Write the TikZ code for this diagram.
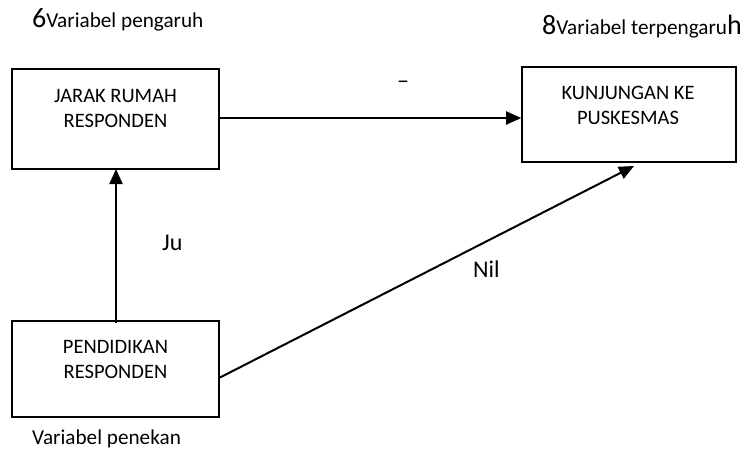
\documentclass[tikz,border=0pt]{standalone}
\usepackage{fontspec}
\setmainfont{Carlito}
\usetikzlibrary{arrows.meta,calc}
\begin{document}
\begin{tikzpicture}[x=1pt,y=-1pt,
  box/.style={draw,line width=1.6pt,minimum width=207pt,minimum height=100pt,inner sep=0pt},
  boxtext/.style={align=center,font=\fontsize{20.5}{25}\selectfont,inner sep=0pt},
  caption/.style={font=\fontsize{21.2}{25}\selectfont,inner sep=0pt,anchor=base west},
  edgelabel/.style={font=\fontsize{24}{28}\selectfont,inner sep=0pt,anchor=base west},
  link/.style={line width=2pt,-{Triangle[length=15pt,width=13pt]}}]
\useasboundingbox (0,0) rectangle (748,452);

% the three variable boxes
\node[box] (jarak) at (115.5,119) {};
\node[box,minimum height=96pt] (pend) at (115.5,369) {};
\node[box,minimum width=214pt,minimum height=95pt] (kunj) at (629,114.5) {};

\node[boxtext] (jarakt) at (115.5,108.5) {JARAK RUMAH\\RESPONDEN};
\node[boxtext] (pendt) at (115.5,359.5) {PENDIDIKAN\\RESPONDEN};
\node[boxtext] (kunjt) at (628,105.5) {KUNJUNGAN KE\\PUSKESMAS};

% headings and captions
\node[caption] (cap1) at (32,28) {{\fontsize{28}{30}\selectfont 6}Variabel pengaruh};
\node[caption] (cap2) at (542,35) {{\fontsize{28}{30}\selectfont 8}Variabel terpengaru{\fontsize{28}{30}\selectfont h}};
\node[caption] (cap3) at (32,444) {Variabel penekan};

% connectors
\coordinate (pendtop) at (116,323);
\coordinate (jarakbot) at (116,169);
\coordinate (pendright) at (219,378);
\coordinate (kunjtip) at (634,166);
\draw[link] (jarak.east |- 0,118) -- (kunj.west |- 0,118);
\draw[link] (pendtop) -- (jarakbot);
\draw[link] (pendright) -- (kunjtip);

% connector labels
\node[edgelabel] (minus) at (397,89) {–};
\node[edgelabel] (ju) at (162,250) {Ju};
\node[edgelabel] (nil) at (473,277) {Nil};
\end{tikzpicture}
\end{document}
